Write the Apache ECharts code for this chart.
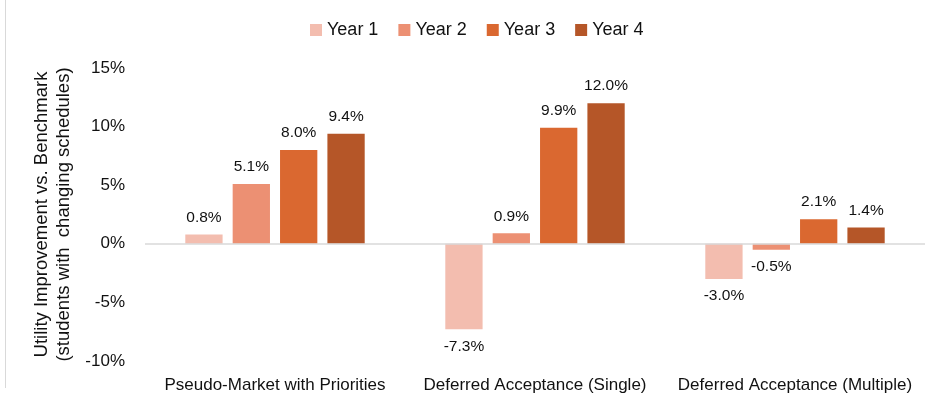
<!DOCTYPE html>
<html>
<head>
<meta charset="utf-8">
<script src="https://cdn.jsdelivr.net/npm/echarts@6/dist/echarts.min.js"></script>
<style>
  html, body { margin: 0; padding: 0; background: #fff; }
  #chart { width: 931px; height: 410px; }
</style>
</head>
<body>
<div id="chart"></div>
<script>
// mechanisms on the x axis
const categories = ['Pseudo-Market with Priorities', 'Deferred Acceptance (Single)', 'Deferred Acceptance (Multiple)']
const years = ['Year 1', 'Year 2', 'Year 3', 'Year 4']
// utility improvement in %, one array per year
const year1 = [0.8, -7.3, -3.0]
const year2 = [5.1, 0.9, -0.5]
const year3 = [8.0, 9.9, 2.1]
const year4 = [9.4, 12.0, 1.4]
const colors = ['#F3BDAF', '#EC9073', '#DA6830', '#B55628']

const font = 'Liberation Sans, Arial, sans-serif'
const chart = echarts.init(document.getElementById('chart'))

const allData = [year1, year2, year3, year4]
const series = allData.map((vals, i) => ({
    name: years[i],
    type: 'bar',
    data: vals.map(v => ({
        value: v,
        label: { position: v < 0 ? 'bottom' : 'top' }
    })),
    barGap: '27%',
    barCategoryGap: '31%',
    itemStyle: { color: colors[i] },
    label: {
        show: true,
        distance: 9,
        color: '#111',
        fontSize: 15.5,
        fontFamily: font,
        formatter: p => p.value.toFixed(1) + '%'
    }
}))
// zero line
series[0].markLine = {
    silent: true,
    symbol: 'none',
    label: { show: false },
    lineStyle: { color: '#d9d9d9', type: 'solid', width: 1.5 },
    data: [{ yAxis: 0 }]
}

chart.setOption({
    animation: false,
    color: colors,
    legend: {
        top: 16,
        left: 305,
        itemWidth: 12,
        itemHeight: 12,
        itemGap: 20,
        icon: 'rect',
        textStyle: { fontSize: 18, color: '#111', fontFamily: font },
        data: years
    },
    grid: { left: 145, right: 6, top: 68, bottom: 49 },
    xAxis: {
        type: 'category',
        data: categories,
        axisLine: { show: false, onZero: false },
        axisTick: { show: false },
        axisLabel: { interval: 0, margin: 16, fontSize: 17, color: '#111', fontFamily: font }
    },
    yAxis: {
        type: 'value',
        min: -10,
        max: 15,
        interval: 5,
        name: 'Utility Improvement vs. Benchmark\n(students with  changing schedules)',
        nameLocation: 'middle',
        nameRotate: 90,
        nameGap: 70,
        nameTextStyle: { fontSize: 18.5, color: '#111', fontFamily: font, lineHeight: 22 },
        splitLine: { show: false },
        axisLine: { show: false },
        axisTick: { show: false },
        axisLabel: { formatter: '{value}%', margin: 20, fontSize: 17, color: '#111', fontFamily: font }
    },
    graphic: [{
        type: 'line',
        shape: { x1: 5.5, y1: 0, x2: 5.5, y2: 388 },
        style: { stroke: '#d9d9d9', lineWidth: 1 }
    }],
    series: series
})
</script>
</body>
</html>
